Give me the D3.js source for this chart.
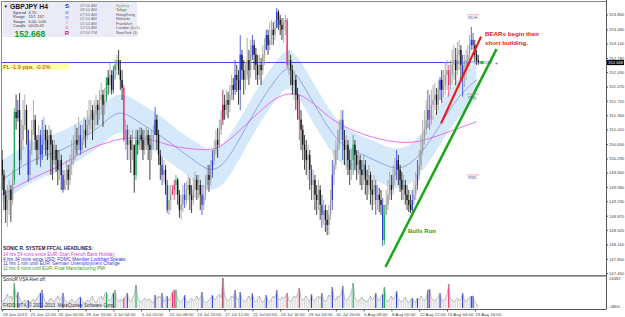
<!DOCTYPE html>
<html><head><meta charset="utf-8">
<script src="https://cdn.jsdelivr.net/npm/d3@7"></script>
<style>body{margin:0;background:#fff}svg{display:block}text{font-family:"Liberation Sans",Arial,sans-serif}</style>
</head><body><svg id="c" width="625" height="317"></svg>
<script>
// ---- data (GBPJPY H4) ----
const firstOpen = 150.25;
const closes = [149.88,149.39,149.01,149.26,149.51,149.26,149.76,151.44,151.29,151.49,
150.25,150.75,151.12,151.49,151.00,149.88,150.50,151.00,151.25,150.75,
150.50,150.87,150.38,150.63,151.00,150.75,150.50,150.87,150.63,150.25,
150.50,150.25,150.01,150.25,149.88,149.51,149.76,150.01,149.76,150.13,
150.25,150.50,150.75,150.63,150.87,150.50,150.75,151.00,150.87,151.12,
151.25,151.49,151.25,151.37,151.62,151.49,151.74,151.87,151.62,151.74,
152.29,152.11,152.36,151.99,152.48,152.61,152.73,152.48,152.24,152.04,
150.75,151.00,150.63,150.75,150.50,150.63,149.88,150.75,150.63,150.87,
150.75,150.50,150.75,150.87,150.63,150.50,150.75,150.87,151.25,150.87,
150.38,150.13,149.88,150.01,149.63,149.01,149.26,149.39,149.51,149.63,
149.76,149.39,149.01,149.14,149.39,149.26,149.51,149.63,149.39,149.26,
149.51,149.76,149.51,149.63,149.39,149.14,149.39,149.63,149.88,149.76,
150.01,150.25,150.50,150.75,150.63,151.00,151.25,151.62,151.49,151.74,
151.62,151.87,152.11,151.99,152.36,152.24,151.99,152.86,152.48,152.24,
152.36,152.73,152.48,152.86,153.10,152.86,152.61,152.36,152.61,152.48,
152.86,152.98,153.35,153.10,153.23,153.48,153.35,153.53,153.92,153.72,
153.60,153.48,153.67,153.72,152.61,152.73,152.48,152.11,152.24,151.87,
151.74,151.25,151.00,150.63,150.50,150.25,150.38,150.01,149.63,149.76,
149.39,149.26,149.51,149.14,148.89,149.01,148.77,148.64,148.89,149.26,
149.88,150.13,150.50,150.63,151.00,151.25,150.75,150.50,150.63,150.25,
150.01,150.25,150.63,150.38,150.13,150.25,150.01,149.88,150.13,149.76,
149.63,149.88,149.51,149.39,149.63,149.26,149.39,149.26,149.14,148.27,
148.89,149.14,149.39,149.63,149.51,149.88,150.01,150.25,150.01,149.76,
149.51,149.63,149.39,149.26,149.14,149.01,149.26,149.39,149.63,149.88,
150.13,150.50,150.75,151.00,151.25,151.49,151.25,151.62,151.74,151.87,
151.62,151.99,152.24,151.99,152.11,152.36,152.48,152.11,152.36,152.61,
152.73,152.48,152.86,152.98,152.61,152.36,152.48,152.73,152.86,153.10,
153.23,153.10,152.86,152.73,152.668];
const highs = [150.50,150.01,149.51,149.63,149.76,149.63,150.01,151.54,151.87,151.74,
151.91,151.25,151.74,151.87,151.62,150.92,150.75,151.25,151.74,151.37,
150.87,151.12,151.00,151.25,151.32,151.12,151.00,151.12,151.00,150.75,
150.75,150.63,150.50,150.50,150.38,150.01,150.01,150.25,150.13,150.38,
150.75,150.87,151.12,151.05,151.32,151.12,151.12,151.32,151.25,151.49,
151.74,151.74,151.62,151.74,151.87,151.74,151.99,152.16,151.99,152.04,
152.31,152.48,152.66,152.48,152.58,152.73,152.86,152.98,152.73,152.48,
152.11,151.25,151.12,151.00,150.87,151.00,150.63,151.00,151.00,151.07,
151.05,151.00,151.00,151.07,151.00,150.87,151.00,151.12,151.57,151.37,
151.00,150.50,150.33,150.25,150.13,149.76,149.63,149.63,149.63,149.76,
149.88,149.81,149.51,149.39,149.63,149.68,149.71,149.88,149.81,149.63,
149.81,149.96,149.88,149.88,149.76,149.63,149.63,149.88,150.13,150.13,
150.25,150.50,150.75,151.00,151.05,151.25,151.49,151.99,151.87,151.99,
151.94,152.11,152.36,152.29,152.73,152.61,152.48,153.35,152.98,152.73,
152.68,153.28,152.98,153.23,153.35,153.23,153.03,152.86,152.86,152.78,
153.10,153.28,153.48,153.48,153.67,153.72,153.67,153.72,154.02,153.97,
153.85,153.77,153.77,153.85,153.77,152.98,152.86,152.61,152.48,152.36,
152.04,151.87,151.49,151.12,150.87,150.75,150.63,150.50,150.13,150.01,
149.88,149.63,149.76,149.63,149.39,149.26,149.14,149.01,149.14,149.51,
150.25,150.50,150.75,151.00,151.25,151.49,151.49,151.00,150.87,150.75,
150.50,150.50,150.87,150.75,150.50,150.50,150.38,150.25,150.38,150.25,
150.01,150.13,149.96,149.76,149.88,149.76,149.63,149.56,149.51,149.31,
149.14,149.51,149.76,149.96,149.88,150.13,150.30,150.50,150.38,150.13,
149.96,149.88,149.76,149.63,149.51,149.39,149.51,149.76,149.96,150.25,
150.50,150.87,151.25,151.49,151.74,151.99,151.87,151.99,152.11,152.16,
152.04,152.24,152.31,152.48,152.48,152.68,152.73,152.61,152.73,152.98,
153.10,153.03,153.18,153.23,153.10,152.86,152.86,152.98,153.10,153.35,
153.55,153.40,153.23,152.98,152.86];
const lows = [149.51,149.01,148.69,148.59,148.89,148.72,149.14,149.63,151.00,151.20,
149.88,150.13,150.50,151.00,150.63,149.71,149.76,150.38,150.87,150.50,
150.13,150.25,150.08,150.25,150.50,150.38,150.25,150.30,149.88,149.76,
150.13,149.96,149.63,149.76,149.51,149.44,149.51,149.63,149.51,149.63,
149.88,150.13,150.25,150.38,150.50,150.38,150.43,150.63,150.55,150.75,
150.87,151.00,150.75,151.00,151.12,151.12,151.25,151.37,151.07,151.37,
151.69,151.87,151.91,151.87,151.91,152.24,152.36,152.36,151.99,151.74,
150.70,150.50,150.25,150.25,149.93,150.25,149.44,149.76,150.38,150.50,
150.50,150.25,150.38,150.50,150.25,149.76,150.25,150.50,150.87,150.50,
150.13,149.76,149.63,149.71,149.39,148.94,148.89,149.01,149.39,149.26,
149.39,149.14,148.82,148.77,148.96,149.06,149.14,149.26,149.01,148.94,
149.14,149.31,149.26,149.31,149.01,148.89,149.01,149.26,149.51,149.46,
149.63,149.81,150.13,150.38,150.30,150.55,150.87,151.12,151.25,151.37,
151.29,151.44,151.74,151.74,151.87,151.94,151.62,151.49,152.24,151.87,
151.99,152.24,152.11,152.29,152.73,152.48,152.24,152.11,152.24,152.11,
152.36,152.61,152.98,152.86,152.98,153.10,153.10,153.23,153.60,153.48,
153.35,153.23,153.15,153.35,152.53,152.36,152.11,151.87,151.74,151.49,
151.25,150.75,150.50,150.25,150.01,149.88,149.76,149.51,149.26,149.26,
149.01,148.89,149.01,148.77,148.57,148.64,148.47,148.39,148.39,148.77,
149.01,149.63,150.01,150.25,150.50,150.75,150.25,150.13,150.01,149.88,
149.63,149.76,149.88,150.01,149.76,149.88,149.63,149.51,149.63,149.39,
149.26,149.39,149.14,149.01,149.14,148.89,149.01,148.96,148.89,148.12,
148.15,148.89,149.01,149.26,149.26,149.39,149.63,149.76,149.63,149.46,
149.26,149.26,149.14,149.01,148.96,148.94,148.94,149.14,149.26,149.51,
149.76,150.01,150.38,150.63,150.87,151.05,151.00,151.12,151.25,151.49,
151.37,151.49,151.74,151.67,151.79,151.87,151.99,151.82,151.99,152.11,
152.24,152.11,152.36,152.48,152.24,151.82,152.06,152.24,152.48,152.56,
152.98,152.98,152.68,152.61,152.61];

const volumes = [6,8,10,14,10,12,8,25,10,16, 9,7,5,8,6,8,5,7,9,6, 10,12,15,18,9,6,5,8,10,7,
6,9,12,8,10,15,8,6,5,7, 9,6,5,8,10,11,7,5,6,8, 6,9,12,7,5,8,10,12,8,14,
16,9,7,10,15,18,8,6,9,7, 10,12,15,8,6,9,13,23,10,7, 6,8,10,7,9,9,6,5,13,9,
12,10,15,6,9,12,7,10,16,18, 18,9,7,6,8,13,7,5,8,10, 7,9,12,8,10,16,7,5,6,8,
10,13,8,9,12,14,10,30,14,8, 7,9,12,10,18,9,8,16,9,7, 6,9,12,8,15,7,6,9,12,8,
5,8,13,7,6,9,12,10,18,9, 8,11,9,12,15,8,6,9,12,10, 14,20,9,7,10,12,8,6,14,8,
7,10,12,9,15,8,6,9,13,11, 21,9,8,12,10,14,22,10,7,9, 12,16,25,10,8,6,9,11,8,7,
6,9,12,8,10,15,9,7,11,14, 21,8,6,9,12,8,11,17,9,7, 6,8,11,7,5,8,10,7,6,10,
8,12,9,7,10,18,19,10,8,7, 9,11,15,8,7,10,13,24,9,8, 6,8,10,7,9,15,8,6,9,10, 12,12,6,4,1].map(v=>v*1000);

const vsaIdx  = [7,9,15,22,23,35,45,60,64,65,70,72,77,88,92,95,98,99,100,105,115,121,127,134,137,144,152,158,164,171,178,184,190,196,202,215,219,220,227,236,239,245,246,252,257,265,270,271];
const vsaCode = "gbbbbbbgbgrbgbbbrrgbbbdbbbbbrrbbbbgbbgbbbbrbrbbb";

const bandIdx = [0,18,33,45,56,62,69,79,91,102,114,120,128,137,148,160,165,171,183,194,205,217,228,240,252,263,273];
const bandHigh = [150.25,150.75,150.92,151.20,151.54,151.79,151.94,151.67,151.37,150.95,150.63,150.45,150.63,151.29,152.11,152.86,153.03,152.78,151.87,151.12,150.87,150.67,150.45,150.75,151.62,152.36,152.68];
const bandMid  = [149.76,150.30,150.45,150.75,151.07,151.32,151.49,151.17,150.87,150.50,150.13,149.96,150.13,150.80,151.67,152.41,152.58,152.29,151.37,150.63,150.43,150.20,149.96,150.30,151.12,151.87,152.24];
const bandLow  = [149.21,149.76,149.96,150.25,150.58,150.82,151.00,150.70,150.38,150.01,149.63,149.46,149.63,150.30,151.17,151.91,152.09,151.79,150.87,150.13,149.93,149.71,149.46,149.81,150.63,151.37,151.74];
const slowIdx = [0,18,33,45,56,66,70,85,97,114,125,140,155,165,175,188,200,217,236,252,273];
const slowMA  = [149.39,149.83,150.08,150.43,150.63,150.75,150.80,150.80,150.58,150.50,150.50,151.12,151.74,151.94,151.84,151.29,151.00,150.75,150.63,150.87,151.20];

const priceTicks = [153.86,153.49,153.14,152.78,152.43,152.07,151.72,151.36,151.01,150.65,150.29,149.94,149.58,149.23,148.87,148.52,148.16,147.80,147.45];
const timeLabels = ["18 Jun 2013","21 Jun 12:00","26 Jun 00:00","28 Jun 16:00","3 Jul 04:00","5 Jul 20:00","10 Jul 08:00","14 Jul 20:00","17 Jul 12:00","22 Jul 00:00","24 Jul 16:00","29 Jul 04:00","31 Jul 20:00","5 Aug 08:00","8 Aug 00:00","12 Aug 12:00","15 Aug 04:00","19 Aug 16:00"];
const timeIdx = timeLabels.map((d,i)=>i*16);
const bidPrice = 152.668;
const redTrend = [[252.6,151.16],[275.6,153.31]];
const greenTrend = [[220.6,147.60],[284.5,153.00]];
const levels = [["RDH",153.85],["RDL",151.88],["RWL",149.88]];
const headlines = [
 ["14 hrs 54 mins since EUR: Start French Bank Holiday","#d040d0"],
 ["4 hrs 34 mins since USD: FOMC Member Lockhart Speaks","#3030d0"],
 ["11 hrs 1 min until EUR: German Unemployment Change","#3a3ad0"],
 ["11 hrs 6 mins until EUR: Final Manufacturing PMI","#30a030"]];
const cities = ["Sydney","Tokyo","HongKong","Helsinki","Frankfurt","London (0+1)","NewYork (1)"];
const cityTimes = ["09:54 AM","08:54 AM","07:54 AM","02:54 AM","01:54 AM","12:54 AM","07:54 PM"];
const infoRows = [["Spread","4.70"],["Range","157, 137"],["Swaps","0.00, 0.00"],["Candle","00:05:41"]];

// ---- chart ----
const svg = d3.select("#c");
const axisX=606, mainTop=2, mainBot=275, vBot=308;
const x = d3.scaleLinear().domain([0,272]).range([2.2,474.8]);
const y = d3.scaleLinear().domain([147.45,152.78]).range([273,58]);
const yv = d3.scaleLinear().domain([0,31000]).range([308,277]);
const colorMap = {b:"#2a3fd0",g:"#1fa855",r:"#e8336b",d:"#a0103a"};
const vsaColor = {}; vsaIdx.forEach((d,i)=>vsaColor[d]=vsaCode[i]);

svg.append("clipPath").attr("id","cm").append("rect").attr("x",2).attr("y",mainTop).attr("width",axisX-2).attr("height",mainBot-mainTop);
const main = svg.append("g").attr("clip-path","url(#cm)");

const bandData = bandIdx.map((d,i)=>({i:d,h:bandHigh[i],m:bandMid[i],l:bandLow[i]}));
main.append("path").datum(bandData).attr("fill","#d6e9fa")
 .attr("d",d3.area().x(d=>x(d.i)).y0(d=>y(d.l)).y1(d=>y(d.h)).curve(d3.curveBasis));
main.append("path").datum(bandData).attr("fill","none").attr("stroke","#7088d8").attr("stroke-width",0.7)
 .attr("d",d3.line().x(d=>x(d.i)).y(d=>y(d.m)).curve(d3.curveBasis));
main.append("path").datum(slowIdx.map((d,i)=>({i:d,v:slowMA[i]}))).attr("fill","none").attr("stroke","#e050e8").attr("stroke-width",0.8)
 .attr("d",d3.line().x(d=>x(d.i)).y(d=>y(d.v)).curve(d3.curveBasis));

// bid / PL line
main.append("line").attr("x1",0).attr("x2",453).attr("y1",y(bidPrice)).attr("y2",y(bidPrice)).attr("stroke","#4848e0").attr("stroke-width",1.2);

// candles
const candles = closes.map((c,i)=>({i,o:i?closes[i-1]:firstOpen,c,h:highs[i],l:lows[i]}));
const cColor = d=>vsaColor[d.i]?colorMap[vsaColor[d.i]]:(d.c>=d.o?"#9c9c9c":"#111");
main.selectAll(".wk").data(candles).enter().append("line")
 .attr("x1",d=>x(d.i)).attr("x2",d=>x(d.i))
 .attr("y1",d=>y(Math.max(d.h,d.o,d.c))).attr("y2",d=>y(Math.min(d.l,d.o,d.c)))
 .attr("stroke",cColor).attr("stroke-width",0.8);
main.selectAll(".cd").data(candles).enter().append("rect")
 .attr("x",d=>x(d.i)-0.65).attr("width",1.3)
 .attr("y",d=>y(Math.max(d.o,d.c))).attr("height",d=>Math.max(0.8,Math.abs(y(d.o)-y(d.c))))
 .attr("fill",cColor);

// trend lines
main.append("line").attr("x1",x(redTrend[0][0])).attr("y1",y(redTrend[0][1])).attr("x2",x(redTrend[1][0])).attr("y2",y(redTrend[1][1])).attr("stroke","#f01818").attr("stroke-width",2.2);
main.append("line").attr("x1",x(greenTrend[0][0])).attr("y1",y(greenTrend[0][1])).attr("x2",x(greenTrend[1][0])).attr("y2",y(greenTrend[1][1])).attr("stroke","#18a818").attr("stroke-width",2.5);

// PL label
svg.append("rect").attr("x",2).attr("y",y(bidPrice)+0.8).attr("width",68).attr("height",6.5).attr("fill","#ffffa8");
svg.append("text").attr("x",3).attr("y",y(bidPrice)+6.2).attr("font-size",5.6).attr("fill","#a03010").text("PL -1.9 pips, -0.0%");

// annotations
svg.append("text").attr("x",485).attr("y",35.5).attr("font-size",6.2).attr("font-weight","bold").attr("fill","#e82020").text("BEARs begin their");
svg.append("text").attr("x",485).attr("y",45).attr("font-size",6.2).attr("font-weight","bold").attr("fill","#e82020").text("short building.");
svg.append("text").attr("x",408).attr("y",233).attr("font-size",6).attr("font-weight","bold").attr("fill","#20a020").text("Bulls Run");
levels.forEach(d=>{
 svg.append("line").attr("x1",467).attr("x2",479).attr("y1",y(d[1])).attr("y2",y(d[1])).attr("stroke","#e07090").attr("stroke-width",0.6);
 svg.append("text").attr("x",468).attr("y",y(d[1])+4.3).attr("font-size",4.3).attr("fill","#5060a0").text(d[0]);
});
svg.append("text").attr("x",455).attr("y",y(bidPrice)+1.6).attr("font-size",4.3).attr("fill","#3050d0").text("DPIV WPIV RDOW");
svg.append("text").attr("x",495).attr("y",y(bidPrice)+2).attr("font-size",5).attr("fill","#3050d0").text("+");
svg.append("circle").attr("cx",482).attr("cy",y(bidPrice)).attr("r",1.8).attr("fill","#20c040");

// frame
svg.append("line").attr("x1",1).attr("x2",axisX).attr("y1",1.5).attr("y2",1.5).attr("stroke","#888");
svg.append("line").attr("x1",1.5).attr("x2",1.5).attr("y1",1).attr("y2",vBot+1.5).attr("stroke","#888");
svg.append("line").attr("x1",axisX+0.5).attr("x2",axisX+0.5).attr("y1",0).attr("y2",vBot+1.5).attr("stroke","#555");
svg.append("rect").attr("x",1).attr("y",mainBot).attr("width",axisX-1).attr("height",1.6).attr("fill","#777");
svg.append("line").attr("x1",1).attr("x2",axisX).attr("y1",vBot+1.5).attr("y2",vBot+1.5).attr("stroke","#555");

// price axis
const ya = svg.append("g").attr("transform",`translate(${axisX},0)`).call(d3.axisRight(y).tickValues(priceTicks).tickFormat(d3.format(".3f")).tickSize(2).tickPadding(1));
ya.select(".domain").remove();
ya.selectAll("text").attr("font-size",4.2).attr("fill","#444").style("font-family","Liberation Sans, Arial");
ya.selectAll("line").attr("stroke","#555");
svg.append("rect").attr("x",axisX+1).attr("y",y(bidPrice)-2.6).attr("width",17).attr("height",5.2).attr("fill","#000");
svg.append("text").attr("x",axisX+2).attr("y",y(bidPrice)+1.6).attr("font-size",4.2).attr("fill","#fff").text(bidPrice.toFixed(3));

// VSA pane
svg.append("g").selectAll("line").data(volumes).enter().append("line")
 .attr("x1",(d,i)=>x(i)).attr("x2",(d,i)=>x(i)).attr("y1",yv(0)).attr("y2",d=>yv(d))
 .attr("stroke",(d,i)=>vsaColor[i]?colorMap[vsaColor[i]]:"#dadada").attr("stroke-width",(d,i)=>vsaColor[i]?1.2:1);
svg.append("path").datum(volumes).attr("fill","none").attr("stroke","#9a9a9a").attr("stroke-width",0.6)
 .attr("d",d3.line().x((d,i)=>x(i)).y(d=>yv(d)));
svg.append("text").attr("x",3).attr("y",281).attr("font-size",4.6).attr("fill","#222").text("SonicR VSA   Alert off.");
svg.append("text").attr("x",3).attr("y",306.5).attr("font-size",4.6).attr("fill","#333").text("FXDD MT4, © 2001-2013, MetaQuotes Software Corp.");
svg.append("text").attr("x",axisX+3).attr("y",280).attr("font-size",4.2).attr("fill","#444").text("24482");
svg.append("text").attr("x",axisX+3).attr("y",308).attr("font-size",4.2).attr("fill","#444").text("-4800");

// time axis
const xa = svg.append("g").attr("transform",`translate(0,${vBot+1.5})`).call(d3.axisBottom(x).tickValues(timeIdx).tickFormat((d,i)=>timeLabels[i]).tickSize(2).tickPadding(1));
xa.select(".domain").remove();
xa.selectAll("text").attr("font-size",4.4).attr("fill","#444").attr("text-anchor","start").style("font-family","Liberation Sans, Arial");
xa.selectAll("line").attr("stroke","#555");

// headlines
svg.append("text").attr("x",3).attr("y",250).attr("font-size",4.8).attr("font-weight","bold").attr("fill","#202050").text("SONIC R. SYSTEM  FFCAL HEADLINES:");
headlines.forEach((h,i)=>svg.append("text").attr("x",3).attr("y",256+i*4.5).attr("font-size",4.7).attr("fill",h[1]).text(h[0]));

// info box
svg.append("rect").attr("x",3).attr("y",2).attr("width",134).attr("height",35).attr("fill","#ebebf8");
svg.append("text").attr("x",3.5).attr("y",8).attr("font-size",4.5).attr("fill","#111").text("▼");
svg.append("text").attr("x",10).attr("y",8.5).attr("font-size",6.8).attr("font-weight","bold").attr("fill","#111").text("GBPJPY  H4");
infoRows.forEach((d,i)=>{
 svg.append("text").attr("x",13).attr("y",14+i*4.4).attr("font-size",4).attr("fill","#333").text(d[0]);
 svg.append("text").attr("x",28.5).attr("y",14+i*4.4).attr("font-size",4).attr("fill","#333").text(d[1]);
});
svg.append("text").attr("x",14.5).attr("y",36.5).attr("font-size",8.5).attr("font-weight","bold").attr("fill","#1a9a2a").text(bidPrice.toFixed(3));
[["S","#1a1ad8",8,"bold"],["o","#5a5ae0",14,"normal"],["n","#9a5ae0",19,"normal"],["i","#e070c0",24,"normal"],["c","#f06090",29,"normal"],["R","#e01a3a",34.5,"bold"]].forEach(d=>
 svg.append("text").attr("x",67).attr("y",d[2]).attr("font-size",6).attr("font-weight",d[3]).attr("text-anchor","middle").attr("fill",d[1]).text(d[0]));
cityTimes.forEach((t,i)=>{
 svg.append("text").attr("x",80).attr("y",6.5+i*4.5).attr("font-size",4).attr("fill","#777").text(t);
 svg.append("text").attr("x",116).attr("y",6.5+i*4.5).attr("font-size",4).attr("fill",i?"#555":"#6aa84f").text(cities[i]);
});
</script></body></html>
